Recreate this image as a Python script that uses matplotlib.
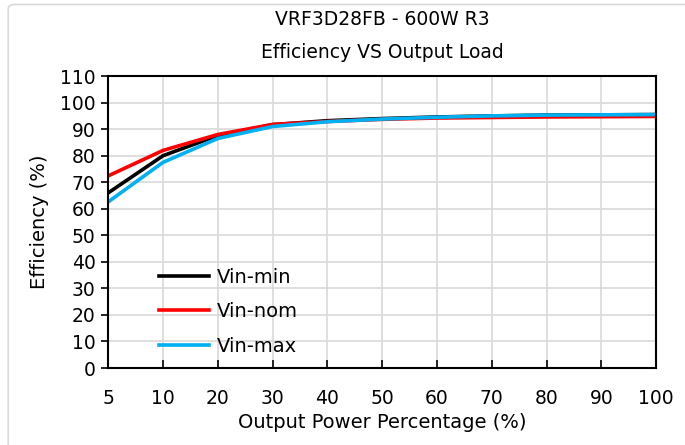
import matplotlib
matplotlib.use("Agg")
from matplotlib import pyplot as plt
from matplotlib.patches import FancyBboxPatch

load_pct = ["5", "10", "20", "30", "40", "50", "60", "70", "80", "90", "100"]
vin_min = [66.0, 80.0, 87.6, 91.7, 93.2, 94.0, 94.6, 95.0, 95.3, 95.4, 95.5]
vin_nom = [72.4, 82.0, 88.0, 91.8, 92.9, 93.7, 94.2, 94.4, 94.6, 94.7, 94.8]
vin_max = [62.6, 77.5, 86.5, 91.0, 92.8, 93.8, 94.5, 95.0, 95.3, 95.4, 95.5]

plt.rcParams['font.family'] = ['DejaVu Sans']

fig = plt.figure(figsize=(6.85, 4.45), dpi=100)
ax = fig.add_axes([0.158, 0.173, 0.800, 0.656])

# light outer frame like the exported chart
frame = FancyBboxPatch((0.012, -0.05), 1.05, 1.04, transform=fig.transFigure,
                       boxstyle="round,pad=0,rounding_size=0.01",
                       fill=False, edgecolor="#d9d9d9", linewidth=1.2)
fig.patches.append(frame)

xs = range(len(load_pct))
ax.plot(xs, vin_min, color="black", lw=2.6, label="Vin-min")
ax.plot(xs, vin_nom, color="#ff0000", lw=2.6, label="Vin-nom")
ax.plot(xs, vin_max, color="#00b0f0", lw=2.6, label="Vin-max")

ax.set_xlim(0, len(load_pct) - 1)
ax.set_ylim(0, 110)
ax.set_xticks(list(xs))
ax.set_xticklabels(load_pct)
ax.set_yticks(range(0, 111, 10))
ax.grid(True, color="#d9d9d9", lw=1.2)
ax.set_axisbelow(True)
for s in ax.spines.values():
    s.set_linewidth(1.5)
    s.set_color("black")
ax.tick_params(axis="x", direction="in", length=6, width=1.2, labelsize=13.5, pad=15)
ax.tick_params(axis="y", direction="out", length=5, width=1.2, labelsize=13.5, pad=4)

ax.set_xlabel("Output Power Percentage (%)", fontsize=14, labelpad=4)
ax.set_ylabel("Efficiency (%)", fontsize=14, labelpad=8)
ax.set_title("VRF3D28FB - 600W R3\nEfficiency VS Output Load", fontsize=13.5,
             linespacing=1.95, pad=13)

ax.legend(loc="lower left", bbox_to_anchor=(0.06, -0.018), frameon=False,
          fontsize=14, handlelength=2.6, labelspacing=0.8, handletextpad=0.4)

fig.savefig("out.png", dpi=100)
